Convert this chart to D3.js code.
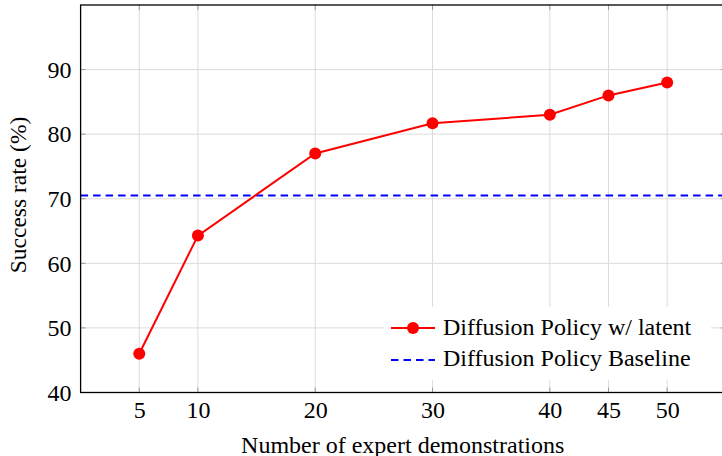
<!DOCTYPE html>
<html>
<head>
<meta charset="utf-8">
<script src="https://cdn.jsdelivr.net/npm/d3@7"></script>
<style>
  body { margin: 0; background: #fff; }
</style>
</head>
<body>
<div id="chart"></div>
<script>
// demonstrations vs success rate
var demos = [5, 10, 20, 30, 40, 45, 50];
var latentRates = [46.0, 64.3, 77.0, 81.7, 83.0, 86.0, 88.0];
var baselineRate = 70.5;
var xTicks = [5, 10, 20, 30, 40, 45, 50];
var yTicks = [40, 50, 60, 70, 80, 90];
var seriesNames = ['Diffusion Policy w/ latent', 'Diffusion Policy Baseline'];

(function() {
  var width = 722, height = 456,
      left = 80.6, right = 725.8, top = 5, bottom = 392.5,
      serif = '"Liberation Serif"';

  var svg = d3.select('#chart').append('svg')
      .attr('width', width)
      .attr('height', height);

  var x = d3.scaleLinear().domain([0, 55]).range([left, right]),
      y = d3.scaleLinear().domain([40, 100]).range([bottom, top]);

  // grid
  var grid = svg.append('g');
  grid.selectAll('.gx').data(xTicks).enter().append('line')
      .attr('x1', function(d) { return x(d); })
      .attr('x2', function(d) { return x(d); })
      .attr('y1', top).attr('y2', bottom)
      .attr('stroke', '#dcdcdc').attr('stroke-width', 1);
  grid.selectAll('.gy').data(yTicks).enter().append('line')
      .attr('y1', function(d) { return y(d); })
      .attr('y2', function(d) { return y(d); })
      .attr('x1', left).attr('x2', right)
      .attr('stroke', '#dcdcdc').attr('stroke-width', 1);

  // inner tick marks on all four sides
  var ticks = svg.append('g').attr('stroke', '#9a9a9a').attr('stroke-width', 1);
  [bottom, top].forEach(function(yy, k) {
    ticks.selectAll('.tx' + k).data(xTicks).enter().append('line')
        .attr('x1', function(d) { return x(d); })
        .attr('x2', function(d) { return x(d); })
        .attr('y1', yy).attr('y2', k === 0 ? yy - 5 : yy + 5);
  });
  [left, right].forEach(function(xx, k) {
    ticks.selectAll('.ty' + k).data(yTicks).enter().append('line')
        .attr('y1', function(d) { return y(d); })
        .attr('y2', function(d) { return y(d); })
        .attr('x1', xx).attr('x2', k === 0 ? xx + 5 : xx - 5);
  });

  // axes labels (d3 axes, tick lines hidden)
  var xAxis = svg.append('g')
      .attr('transform', 'translate(0,' + bottom + ')')
      .call(d3.axisBottom(x).tickValues(xTicks).tickSize(0).tickPadding(8.5));
  var yAxis = svg.append('g')
      .attr('transform', 'translate(' + left + ',0)')
      .call(d3.axisLeft(y).tickValues(yTicks).tickSize(0).tickPadding(9));
  [xAxis, yAxis].forEach(function(a) {
    a.attr('font-family', null).attr('font-size', null);
    a.select('.domain').remove();
    a.selectAll('text')
        .style('font-family', serif)
        .style('font-size', '24px')
        .attr('fill', '#000');
  });

  // baseline
  svg.append('line')
      .attr('x1', left).attr('x2', right)
      .attr('y1', y(baselineRate)).attr('y2', y(baselineRate))
      .attr('stroke', '#0000ff').attr('stroke-width', 2)
      .attr('stroke-dasharray', '7.5,5');

  // latent series
  var line = d3.line()
      .x(function(d, i) { return x(demos[i]); })
      .y(function(d) { return y(d); });
  svg.append('path')
      .datum(latentRates)
      .attr('d', line)
      .attr('fill', 'none')
      .attr('stroke', '#ff0000')
      .attr('stroke-width', 2);
  svg.selectAll('.pt').data(latentRates).enter().append('circle')
      .attr('cx', function(d, i) { return x(demos[i]); })
      .attr('cy', function(d) { return y(d); })
      .attr('r', 6)
      .attr('fill', '#ff0000');

  // legend
  var lg = svg.append('g');
  lg.append('rect')
      .attr('x', 384).attr('y', 307).attr('width', 327).attr('height', 73)
      .attr('fill', '#fff');
  lg.append('line')
      .attr('x1', 391).attr('x2', 435).attr('y1', 328).attr('y2', 328)
      .attr('stroke', '#ff0000').attr('stroke-width', 2);
  lg.append('circle')
      .attr('cx', 413).attr('cy', 328).attr('r', 6).attr('fill', '#ff0000');
  lg.append('line')
      .attr('x1', 391).attr('x2', 435).attr('y1', 360).attr('y2', 360)
      .attr('stroke', '#0000ff').attr('stroke-width', 2)
      .attr('stroke-dasharray', '7.5,5');
  lg.selectAll('.lt').data(seriesNames).enter().append('text')
      .attr('x', 443)
      .attr('y', function(d, i) { return 334.5 + i * 31.2; })
      .style('font-family', serif)
      .style('font-size', '24px')
      .attr('fill', '#000')
      .text(function(d) { return d; });

  // frame
  svg.append('rect')
      .attr('x', left).attr('y', top)
      .attr('width', right - left).attr('height', bottom - top)
      .attr('fill', 'none').attr('stroke', '#000').attr('stroke-width', 1.3);

  // titles
  svg.append('text')
      .attr('x', 402.7)
      .attr('y', 452.5)
      .attr('text-anchor', 'middle')
      .style('font-family', serif)
      .style('font-size', '24px')
      .text('Number of expert demonstrations');
  svg.append('text')
      .attr('transform', 'translate(26,195) rotate(-90)')
      .attr('text-anchor', 'middle')
      .style('font-family', serif)
      .style('font-size', '23.5px')
      .text('Success rate (%)');
})();
</script>
</body>
</html>
